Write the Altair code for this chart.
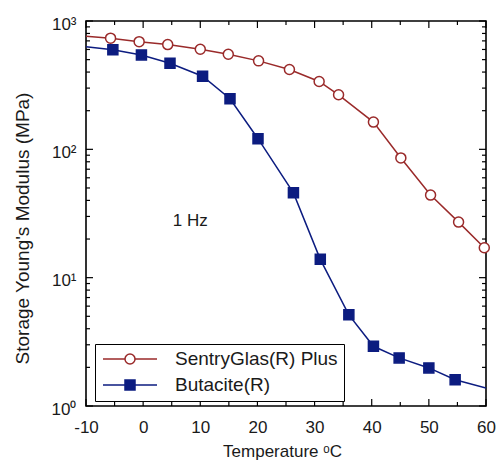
import altair as alt
import pandas as pd

SG = "SentryGlas(R) Plus"
BU = "Butacite(R)"
RED = "#9a2a2a"
NAVY = "#0c1c80"
FONT = "Liberation Sans"
INK = "#1a1a1a"

# measured points (with markers)
sg_temp = [-5.7, -0.7, 4.3, 10.0, 14.9, 20.2, 25.6, 30.8, 34.2, 40.3, 45.1, 50.3, 55.2, 59.7]
sg_mod = [735, 690, 655, 603, 551, 489, 419, 338, 266, 163, 85.7, 44, 27.1, 17.1]
bu_temp = [-5.3, -0.3, 4.7, 10.4, 15.2, 20.1, 26.3, 31.0, 36.0, 40.3, 44.8, 50.0, 54.6]
bu_mod = [596, 544, 469, 371, 248, 121, 45.8, 13.9, 5.13, 2.92, 2.37, 1.98, 1.60]

# curve ends at the frame (line only)
sg_edge_temp = [-10]
sg_edge_mod = [760]
bu_edge_temp = [-10, 60]
bu_edge_mod = [631, 1.38]

x_ticks = [-10, 0, 10, 20, 30, 40, 50, 60]
x_minor = [-5, 5, 15, 25, 35, 45, 55]
y_ticks = [1, 10, 100, 1000]
y_tick_labels = ["10⁰", "10¹", "10²", "10³"]
y_minor = [2, 3, 4, 5, 6, 7, 8, 9,
           20, 30, 40, 50, 60, 70, 80, 90,
           200, 300, 400, 500, 600, 700, 800, 900]

note_text = ["1 Hz"]
note_temp = [5.2]
note_mod = [27.4]

W, H = 400, 385

points = pd.DataFrame({
    "series": [SG] * len(sg_temp) + [BU] * len(bu_temp),
    "key": ["1"] * len(sg_temp) + ["2"] * len(bu_temp),
    "temp": sg_temp + bu_temp,
    "mod": sg_mod + bu_mod,
})
lines = pd.concat([
    points,
    pd.DataFrame({
        "series": [SG] * len(sg_edge_temp) + [BU] * len(bu_edge_temp),
        "key": ["1"] * len(sg_edge_temp) + ["2"] * len(bu_edge_temp),
        "temp": sg_edge_temp + bu_edge_temp,
        "mod": sg_edge_mod + bu_edge_mod,
    }),
]).sort_values(["series", "temp"])

xscale = alt.Scale(domain=[-10, 60], nice=False, zero=False)
yscale = alt.Scale(type="log", domain=[1, 1000], nice=False)

label_expr = " : ".join(
    f"datum.value == {v} ? '{t}'" for v, t in zip(y_ticks[:-1], y_tick_labels[:-1])
) + f" : '{y_tick_labels[-1]}'"

xaxis = alt.Axis(values=x_ticks, labelExpr="datum.value", ticks=False, domain=False,
                 grid=False, labelFontSize=17, labelFont=FONT, labelColor=INK,
                 labelPadding=13, labelFlush=False,
                 title="Temperature ᵒC", titleFont=FONT, titleFontSize=17,
                 titleFontWeight="normal", titleColor=INK, titleX=196, titleY=45,
                 titleBaseline="middle", titleAlign="center")
yaxis = alt.Axis(values=y_ticks, labelExpr=label_expr, ticks=False, domain=False,
                 grid=False, labelFontSize=17, labelFont=FONT, labelColor=INK,
                 labelPadding=10, labelFlush=False, labelOffset=3,
                 title="Storage Young's Modulus (MPa)", titleFont=FONT, titleFontSize=19,
                 titleFontWeight="normal", titleColor=INK, titleX=-64, titleY=207,
                 titleAngle=270, titleBaseline="middle", titleAlign="center")

common_leg = dict(title=None, orient="none", legendX=9, legendY=323, direction="vertical",
                  symbolSize=100, symbolStrokeWidth=1.5, labelFontSize=19, labelFont=FONT,
                  labelColor=INK, labelOffset=35.5, symbolOffset=20, padding=5.5,
                  rowPadding=6, labelLimit=0)
legA = alt.Legend(symbolType="M-5.4,0H-0.9M0.9,0H5.4", strokeColor="black",
                  fillColor="white", **common_leg)
legB = alt.Legend(labelExpr="''", **common_leg)

line = alt.Chart(lines).mark_line(strokeWidth=1.5, clip=True).encode(
    x=alt.X("temp:Q", scale=xscale, axis=xaxis),
    y=alt.Y("mod:Q", scale=yscale, axis=yaxis),
    color=alt.Color("series:N", scale=alt.Scale(domain=[SG, BU], range=[RED, NAVY]),
                    legend=legA),
    detail="series:N",
    order="temp:Q",
)

pts = alt.Chart(points).mark_point(size=100, strokeWidth=1.5, opacity=1, filled=True).encode(
    x=alt.X("temp:Q", scale=xscale, axis=xaxis),
    y=alt.Y("mod:Q", scale=yscale, axis=yaxis),
    shape=alt.Shape("key:N", scale=alt.Scale(range=["circle", "square"]), legend=legB),
    fill=alt.Fill("key:N", scale=alt.Scale(range=["white", NAVY]), legend=legB),
    stroke=alt.Stroke("key:N", scale=alt.Scale(range=[RED, NAVY]), legend=legB),
)

note = alt.Chart(pd.DataFrame({"t": note_text, "x": note_temp, "y": note_mod})).mark_text(
    align="left", baseline="middle", fontSize=17, font=FONT, color=INK
).encode(
    x=alt.X("x:Q", scale=xscale, axis=xaxis),
    y=alt.Y("y:Q", scale=yscale, axis=yaxis),
    text="t:N",
)


def xrules(vals, y0, y1):
    return alt.Chart(pd.DataFrame({"t": vals})).mark_rule(color="black", strokeWidth=1.2).encode(
        x=alt.X("t:Q", scale=xscale, axis=xaxis), y=alt.value(y0), y2=alt.value(y1))


def yrules(vals, x0, x1):
    return alt.Chart(pd.DataFrame({"v": vals})).mark_rule(color="black", strokeWidth=1.2).encode(
        y=alt.Y("v:Q", scale=yscale, axis=yaxis), x=alt.value(x0), x2=alt.value(x1))


ticks = [
    xrules(x_ticks, H, H - 7), xrules(x_ticks, 0, 7),
    xrules(x_minor, H, H - 4), xrules(x_minor, 0, 4),
    yrules(y_ticks, 0, 7), yrules(y_ticks, W, W - 7),
    yrules(y_minor, 0, 4), yrules(y_minor, W, W - 4),
]

chart = alt.layer(line, pts, note, *ticks).properties(
    width=W, height=H,
    padding={"left": 78, "top": 13, "right": 10, "bottom": 57},
    autosize=alt.AutoSizeParams(type="none"),
    background="white",
).configure_view(stroke="black", strokeWidth=1.6)

chart.save("out.html", embed_options={"renderer": "svg", "actions": False})
